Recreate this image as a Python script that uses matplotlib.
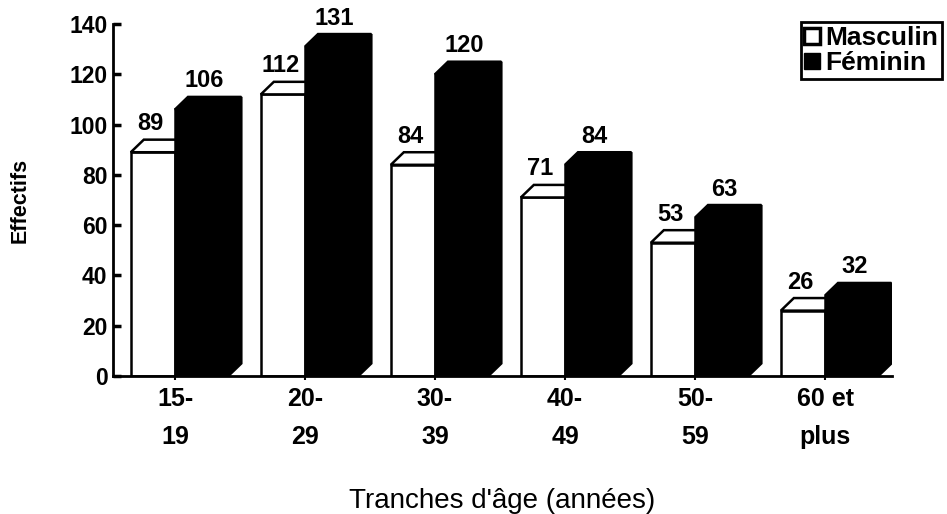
import matplotlib.pyplot as plt
from matplotlib.patches import Polygon, Rectangle
from matplotlib.lines import Line2D

plt.rcParams['font.family'] = ['Liberation Sans', 'DejaVu Sans']

# Data
tranches = ['15-\n19', '20-\n29', '30-\n39', '40-\n49', '50-\n59', '60 et\nplus']
masculin = [89, 112, 84, 71, 53, 26]
feminin = [106, 131, 120, 84, 63, 32]

fig = plt.figure(figsize=(9.47, 5.14), dpi=100)
ax = fig.add_axes([113 / 947, 138 / 514, 779 / 947, 352 / 514])

w_m = 0.34   # width of white bar front
w_f = 0.41   # width of black bar front
dx = 0.1     # depth offset (x)
dy = 5.0     # depth offset (y)
lw = 1.8

for i, (m, f) in enumerate(zip(masculin, feminin)):
    # white (Masculin) bar
    ax.add_patch(Rectangle((i - w_m, 0), w_m, m, facecolor='white',
                           edgecolor='black', lw=lw, zorder=2))
    ax.add_patch(Polygon([(i - w_m, m), (i - w_m + dx, m + dy), (i + dx, m + dy), (i, m)],
                         closed=True, facecolor='white', edgecolor='black', lw=lw, zorder=2))
    # black (Féminin) bar
    ax.add_patch(Rectangle((i, 0), w_f, f, facecolor='black',
                           edgecolor='black', lw=lw, zorder=3))
    ax.add_patch(Polygon([(i, f), (i + dx, f + dy), (i + w_f + dx, f + dy), (i + w_f, f)],
                         closed=True, facecolor='black', edgecolor='black', lw=lw, zorder=3))
    ax.add_patch(Polygon([(i + w_f, 0), (i + w_f + dx, dy), (i + w_f + dx, f + dy), (i + w_f, f)],
                         closed=True, facecolor='black', edgecolor='black', lw=lw, zorder=3))
    # value labels
    ax.text(i - w_m / 2 - 0.02, m + dy + 1.8, str(m), ha='center', va='bottom',
            fontsize=17, fontweight='bold', clip_on=False, zorder=4)
    ax.text(i + w_f / 2 + 0.02, f + dy + 1.8, str(f), ha='center', va='bottom',
            fontsize=17, fontweight='bold', clip_on=False, zorder=4)

ax.set_xlim(-0.477, 5.515)
ax.set_ylim(0, 140)
ax.set_yticks(range(0, 141, 20))
ax.set_xticks(range(len(tranches)))
ax.set_xticklabels(tranches, fontsize=18, fontweight='bold', linespacing=1.75)
for lab in ax.get_yticklabels():
    lab.set_fontsize(16.5)
    lab.set_fontweight('bold')

ax.spines['top'].set_visible(False)
ax.spines['right'].set_visible(False)
ax.spines['left'].set_linewidth(2)
ax.spines['bottom'].set_linewidth(2)
ax.tick_params(axis='y', direction='in', length=6, width=2.5, pad=4)
ax.tick_params(axis='x', length=3, width=1.5, pad=5)

ax.set_ylabel('Effectifs', fontsize=15.5, fontweight='bold', labelpad=28)
ax.set_xlabel("Tranches d'âge (années)", fontsize=20, labelpad=28)

handles = [Line2D([], [], marker='s', color='none', markerfacecolor='white',
                  markeredgecolor='black', markeredgewidth=2.5, markersize=12),
           Line2D([], [], marker='s', color='none', markerfacecolor='black',
                  markeredgecolor='black', markersize=12)]
leg = ax.legend(handles, ['Masculin', 'Féminin'], loc='upper left',
                bbox_to_anchor=(801 / 947, 1 - 22 / 514), bbox_transform=fig.transFigure,
                fancybox=False, edgecolor='black', framealpha=1,
                prop={'weight': 'bold', 'size': 19}, handlelength=0.55,
                handletextpad=0.2, borderpad=0.15, labelspacing=0.05, borderaxespad=0)
leg.get_frame().set_linewidth(2)

fig.savefig('out.png', dpi=100)
